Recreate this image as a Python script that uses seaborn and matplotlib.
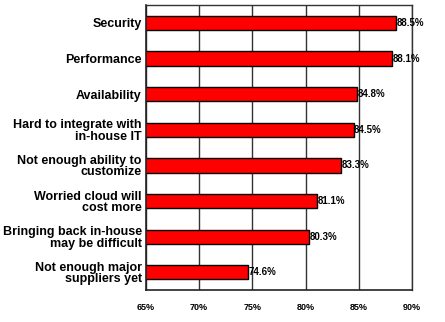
import matplotlib
matplotlib.use('Agg')
import matplotlib.pyplot as plt
import seaborn as sns
import numpy as np
import pandas as pd
from matplotlib.ticker import FixedLocator

# data
categories = [
    'Security',
    'Performance',
    'Availability',
    'Hard to integrate with\nin-house IT',
    'Not enough ability to\ncustomize',
    'Worried cloud will\ncost more',
    'Bringing back in-house\nmay be difficult',
    'Not enough major\nsuppliers yet',
]
values = [88.5, 88.1, 84.8, 84.5, 83.3, 81.1, 80.3, 74.6]
x_ticks = [65, 70, 75, 80, 85, 90]

df = pd.DataFrame({'category': categories, 'value': values})

sns.set_style('white')
plt.rcParams['font.family'] = ['Liberation Sans', 'DejaVu Sans']
plt.rcParams['text.color'] = 'black'
plt.rcParams['xtick.color'] = 'black'
plt.rcParams['ytick.color'] = 'black'

fig = plt.figure(figsize=(4.45, 3.22), dpi=100)
ax = fig.add_axes([0.328, 0.099, 0.598, 0.885])

sns.barplot(data=df, x='value', y='category', orient='h', color='#ff0000',
            edgecolor='black', linewidth=1.0, width=0.4, saturation=1, ax=ax)

ax.set_xlim(65, 90)
ax.set_ylim(7.5, -0.5)
ax.set_xticks(x_ticks)
ax.set_xticklabels([f'{t}%' for t in x_ticks], fontsize=6.5, fontweight='bold')
ax.tick_params(axis='x', length=0, pad=9)
ax.set_yticks(range(len(categories)))
ax.set_yticklabels(categories, fontsize=9, fontweight='bold', linespacing=0.95)
ax.tick_params(axis='y', which='major', length=0, pad=3)
ax.yaxis.set_minor_locator(FixedLocator(np.arange(-0.5, len(categories), 1)))
ax.tick_params(axis='y', which='minor', length=3, width=1, color='#333333', direction='out')
ax.set_xlabel('')
ax.set_ylabel('')

ax.grid(axis='x', color='#333333', linewidth=1)
ax.set_axisbelow(True)
for side in ['left', 'bottom']:
    ax.spines[side].set_color('#222222')
    ax.spines[side].set_linewidth(1.2)
for side in ['top', 'right']:
    ax.spines[side].set_visible(True)
    ax.spines[side].set_color('#333333')
    ax.spines[side].set_linewidth(1)

for i, v in enumerate(values):
    ax.text(v + 0.05, i, f'{v:.1f}%', va='center', ha='left', fontsize=7,
            fontweight='bold')

fig.savefig('out.png', dpi=100)
